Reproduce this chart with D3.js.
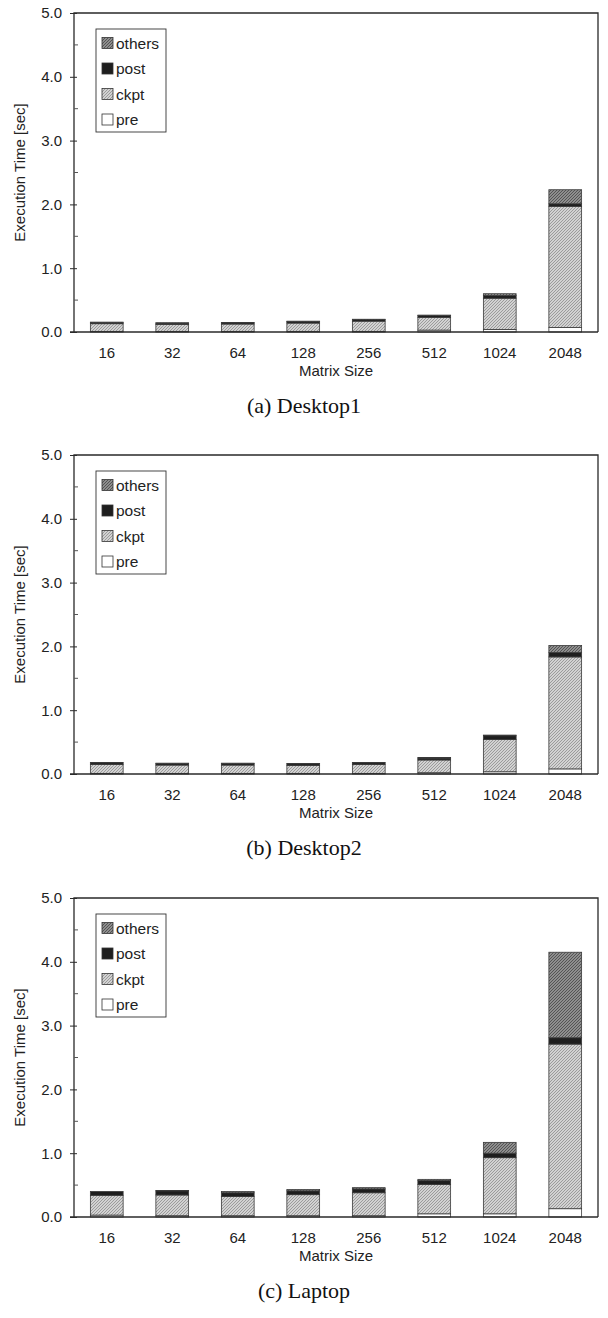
<!DOCTYPE html>
<html><head><meta charset="utf-8">
<script src="https://cdn.jsdelivr.net/npm/d3@7"></script>
<style>body{margin:0;background:#fff}svg{display:block}</style>
</head><body>
<svg id="c" width="608" height="1318"></svg>
<script>
const categories = ["16","32","64","128","256","512","1024","2048"];
const seriesNames = ["pre","ckpt","post","others"];
const yTicks = [0,1,2,3,4,5];
const yMinorTicks = [0.5,1.5,2.5,3.5,4.5];

const desktop1Pre    = [0.01,0.01,0.01,0.01,0.01,0.03,0.04,0.07];
const desktop1Ckpt   = [0.12,0.11,0.115,0.13,0.16,0.20,0.49,1.90];
const desktop1Post   = [0.02,0.02,0.02,0.025,0.025,0.03,0.04,0.04];
const desktop1Others = [0.005,0.005,0.005,0.005,0.005,0.005,0.03,0.22];

const desktop2Pre    = [0.01,0.01,0.01,0.01,0.01,0.02,0.035,0.08];
const desktop2Ckpt   = [0.14,0.13,0.13,0.125,0.14,0.20,0.505,1.755];
const desktop2Post   = [0.025,0.025,0.025,0.025,0.025,0.03,0.06,0.07];
const desktop2Others = [0.005,0.005,0.005,0.005,0.005,0.01,0.01,0.11];

const laptopPre    = [0.03,0.02,0.02,0.02,0.02,0.05,0.05,0.13];
const laptopCkpt   = [0.31,0.325,0.30,0.33,0.36,0.46,0.88,2.58];
const laptopPost   = [0.06,0.065,0.06,0.06,0.06,0.06,0.07,0.10];
const laptopOthers = [0.0,0.005,0.02,0.02,0.02,0.02,0.17,1.34];

const panels = [
  {caption:"(a) Desktop1", top:13, pre:desktop1Pre, ckpt:desktop1Ckpt, post:desktop1Post, others:desktop1Others},
  {caption:"(b) Desktop2", top:455, pre:desktop2Pre, ckpt:desktop2Ckpt, post:desktop2Post, others:desktop2Others},
  {caption:"(c) Laptop", top:898, pre:laptopPre, ckpt:laptopCkpt, post:laptopPost, others:laptopOthers}
];

const svg = d3.select("#c");
const defs = svg.append("defs");
function hatch(id, bg, fg){
  const p = defs.append("pattern").attr("id",id).attr("patternUnits","userSpaceOnUse")
    .attr("width",3).attr("height",3);
  p.append("rect").attr("width",3).attr("height",3).attr("fill",bg);
  p.append("path").attr("d","M0,3 L3,0 M-1,1 L1,-1 M2,4 L4,2").attr("stroke",fg).attr("stroke-width",0.9);
}
hatch("pCkpt","#d2d2d2","#959595");
hatch("pOthers","#8e8e8e","#4e4e4e");
const fills = {pre:"#ffffff", ckpt:"url(#pCkpt)", post:"#1e1e1e", others:"url(#pOthers)"};

const left = 74, right = 598, plotH = 319;
const x = d3.scaleBand().domain(categories).range([left, right]).paddingInner(0.5).paddingOuter(0.25);
const font = "'Liberation Sans', Arial, sans-serif";

panels.forEach(P => {
  const y = d3.scaleLinear().domain([0,5]).range([P.top+plotH, P.top]);
  const g = svg.append("g");
  const rows = categories.map((c,i)=>({cat:c, pre:P.pre[i], ckpt:P.ckpt[i], post:P.post[i], others:P.others[i]}));
  const stacked = d3.stack().keys(seriesNames)(rows);
  stacked.forEach(s => {
    g.append("g").selectAll("rect").data(s).join("rect")
      .attr("x", d=>x(d.data.cat)).attr("width", x.bandwidth())
      .attr("y", d=>y(d[1])).attr("height", d=>Math.max(0, y(d[0])-y(d[1])))
      .attr("fill", fills[s.key]).attr("stroke","#3a3a3a").attr("stroke-width",0.8);
  });
  // frame
  g.append("path").attr("d",`M${left},${y(0)} V${y(5)} H${right} V${y(0)}`)
    .attr("fill","none").attr("stroke","#2a2a2a").attr("stroke-width",1.3);
  g.append("line").attr("x1",left-4).attr("x2",right).attr("y1",y(0)).attr("y2",y(0))
    .attr("stroke","#2a2a2a").attr("stroke-width",1.3);
  // y axis
  const ya = d3.axisLeft(y).tickValues(yTicks).tickFormat(d3.format(".1f")).tickSizeInner(4).tickSizeOuter(0).tickPadding(8);
  const ag = g.append("g").attr("transform",`translate(${left},0)`).call(ya);
  ag.select(".domain").remove();
  ag.selectAll(".tick line").attr("x2",-4).attr("x1",3).attr("stroke","#2a2a2a");
  ag.selectAll("text").attr("font-family",font).attr("font-size",15).attr("fill","#222");
  g.append("g").selectAll("line").data(yMinorTicks).join("line")
    .attr("x1",left).attr("x2",left+4).attr("y1",d=>y(d)).attr("y2",d=>y(d)).attr("stroke","#555");
  // x axis labels
  const xa = d3.axisBottom(x).tickSize(0).tickPadding(15);
  const xg = g.append("g").attr("transform",`translate(0,${y(0)})`).call(xa);
  xg.select(".domain").remove();
  xg.selectAll("text").attr("font-family",font).attr("font-size",15).attr("fill","#222");
  g.append("text").attr("x",(left+right)/2).attr("y",y(0)+43.5).attr("text-anchor","middle")
    .attr("font-family",font).attr("font-size",15).attr("fill","#222").text("Matrix Size");
  g.append("text").attr("transform",`translate(25,${(y(0)+y(5))/2}) rotate(-90)`).attr("text-anchor","middle")
    .attr("font-family",font).attr("font-size",15).attr("fill","#222").text("Execution Time [sec]");
  g.append("text").attr("x",304).attr("y",y(0)+81).attr("text-anchor","middle")
    .attr("font-family","'Liberation Serif', 'Times New Roman', serif").attr("font-size",22).attr("fill","#111").text(P.caption);
  // legend
  const lg = g.append("g").attr("transform",`translate(96,${P.top+16})`);
  lg.append("rect").attr("width",70).attr("height",103).attr("fill","#fff").attr("stroke","#333").attr("stroke-width",0.9);
  const items = seriesNames.slice().reverse();
  items.forEach((k,i)=>{
    const cy = 14 + i*25.5;
    lg.append("rect").attr("x",6).attr("y",cy-5.5).attr("width",11).attr("height",11)
      .attr("fill",fills[k]).attr("stroke","#333").attr("stroke-width",0.8);
    lg.append("text").attr("x",20).attr("y",cy+5.5).attr("font-family",font).attr("font-size",15.5).attr("fill","#222").text(k);
  });
});
</script>
</body></html>
